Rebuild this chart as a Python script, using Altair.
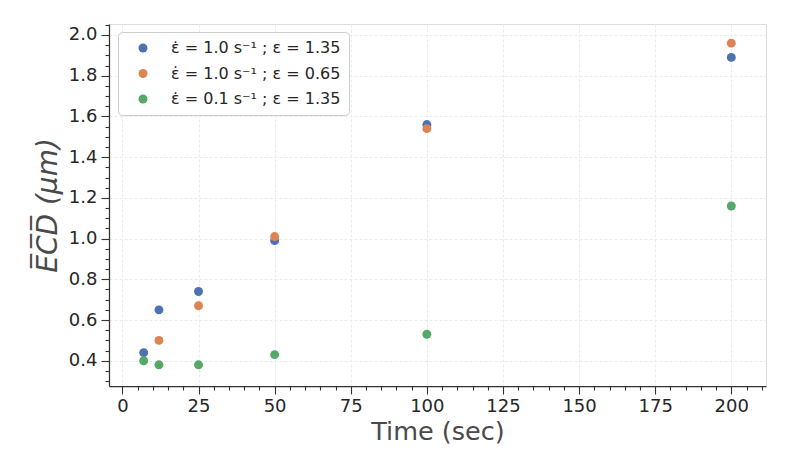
import altair as alt
import pandas as pd

# ---- data ----
labels = ["ε̇ = 1.0 s⁻¹ ; ε = 1.35",
          "ε̇ = 1.0 s⁻¹ ; ε = 0.65",
          "ε̇ = 0.1 s⁻¹ ; ε = 1.35"]
colors = ["#4C72B0", "#DD8452", "#55A868"]

time_a = [7, 12, 25, 50, 100, 200]
ecd_a = [0.44, 0.65, 0.74, 0.99, 1.56, 1.89]

time_b = [12, 25, 50, 100, 200]
ecd_b = [0.50, 0.67, 1.01, 1.54, 1.96]

time_c = [7, 12, 25, 50, 100, 200]
ecd_c = [0.40, 0.38, 0.38, 0.43, 0.53, 1.16]

x_ticks = [0, 5, 10, 15, 20, 25, 30, 35, 40, 45, 50, 55, 60, 65, 70, 75, 80, 85,
           90, 95, 100, 105, 110, 115, 120, 125, 130, 135, 140, 145, 150, 155,
           160, 165, 170, 175, 180, 185, 190, 195, 200, 205, 210]
y_ticks = [0.3, 0.35, 0.4, 0.45, 0.5, 0.55, 0.6, 0.65, 0.7, 0.75, 0.8, 0.85,
           0.9, 0.95, 1.0, 1.05, 1.1, 1.15, 1.2, 1.25, 1.3, 1.35, 1.4, 1.45,
           1.5, 1.55, 1.6, 1.65, 1.7, 1.75, 1.8, 1.85, 1.9, 1.95, 2.0, 2.05]

rows = []
idx = 0
for lab, ts, vs in [(labels[0], time_a, ecd_a), (labels[1], time_b, ecd_b), (labels[2], time_c, ecd_c)]:
    for t, v in zip(ts, vs):
        rows.append({"series": lab, "time": t, "ecd": v, "idx": idx})
        idx += 1
df = pd.DataFrame(rows)

FONT = "DejaVu Sans"
x_major = "(datum.value % 25 === 0)"
y_major = "(abs(datum.value * 5 - round(datum.value * 5)) < 0.001)"

x_axis = alt.Axis(
    values=x_ticks,
    title="Time (sec)",
    titleFont=FONT, titleFontSize=25.5, titleFontWeight="normal", titleColor="#4a4a4a",
    titlePadding=4,
    labelFont=FONT, labelFontSize=18, labelColor="#262626", labelPadding=3,
    labelExpr=f"{x_major} ? format(datum.value, 'd') : ''",
    labelOverlap=False, labelFlush=False,
    tickSize=alt.ExprRef(f"{x_major} ? 8 : 4"),
    gridOpacity=alt.ExprRef(f"{x_major} ? 1 : 0"),
    grid=True, gridColor="#ebebeb", gridDash=[3, 2], gridWidth=1,
    domainColor="#333333", domainWidth=1.25, tickColor="#333333", tickWidth=1.1,
)
y_axis = alt.Axis(
    values=y_ticks,
    title="E̅C̅D̅ (μm)",
    titleFont=FONT, titleFontSize=28, titleFontWeight="normal", titleFontStyle="italic",
    titleColor="#4a4a4a", titlePadding=6,
    labelFont=FONT, labelFontSize=18, labelColor="#262626", labelPadding=4,
    labelExpr=f"{y_major} ? format(datum.value, '.1f') : ''",
    labelOverlap=False, labelFlush=False,
    tickSize=alt.ExprRef(f"{y_major} ? 8 : 4"),
    gridOpacity=alt.ExprRef(f"{y_major} ? 1 : 0"),
    grid=True, gridColor="#ebebeb", gridDash=[3, 2], gridWidth=1,
    domainColor="#333333", domainWidth=1.25, tickColor="#333333", tickWidth=1.1,
)

chart = alt.Chart(df).mark_point(filled=True, size=80, opacity=1).encode(
    x=alt.X("time:Q", scale=alt.Scale(domain=[-4.4, 211.4], nice=False, zero=False), axis=x_axis),
    y=alt.Y("ecd:Q", scale=alt.Scale(domain=[0.276, 2.054], nice=False, zero=False), axis=y_axis),
    color=alt.Color("series:N", scale=alt.Scale(domain=labels, range=colors),
                    legend=alt.Legend(
                        title=None, orient="none", legendX=9, legendY=8,
                        fillColor="white", strokeColor="#cccccc", cornerRadius=4,
                        padding=8, symbolOffset=9, symbolType="circle", symbolSize=80,
                        labelFont=FONT, labelFontSize=16, labelColor="#262626",
                        labelOffset=20, rowPadding=9.5, labelLimit=400,
                    )),
    order=alt.Order("idx:Q"),
).properties(
    width=657, height=362,
    autosize="none",
    padding={"left": 101, "top": 16, "right": 10, "bottom": 70},
).configure_view(stroke=None).configure(background="white")

chart.save("out.html", embed_options={"renderer": "svg", "actions": False})
